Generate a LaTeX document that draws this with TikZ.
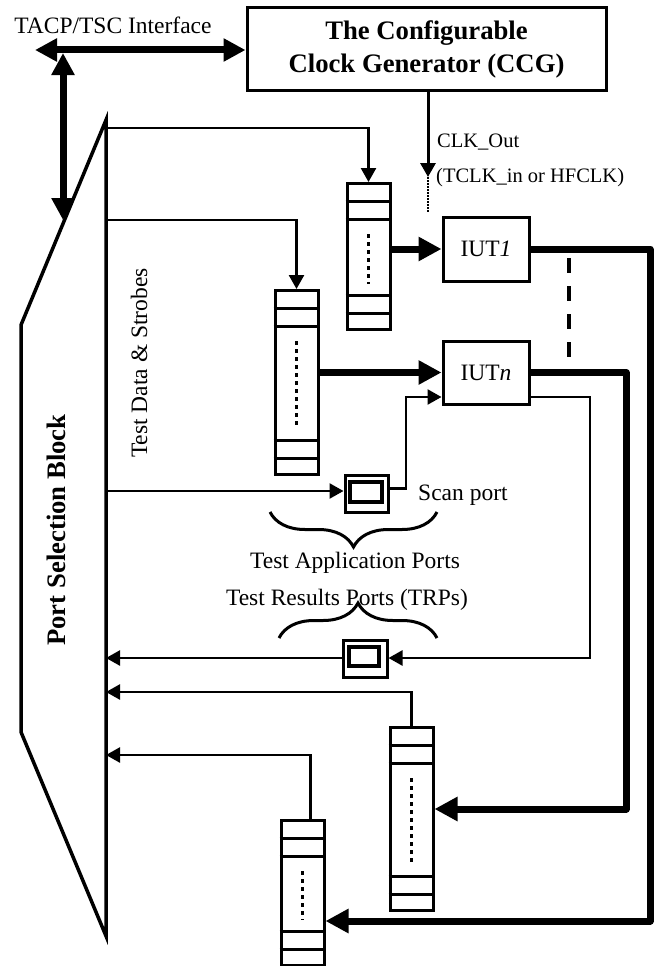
\documentclass[tikz,border=0pt]{standalone}
\usepackage{fontspec}
\setmainfont{Liberation Serif}
\usetikzlibrary{arrows.meta,decorations.pathreplacing,calc}
\newcommand{\shreg}[4]{%
  \node[reg,minimum height={#4-#3},anchor=north] (#1) at (#2,#3) {};
  \draw[cellln] ([yshift=-19pt]#1.north west) -- ([yshift=-19pt]#1.north east);
  \draw[cellln] ([yshift=-37pt]#1.north west) -- ([yshift=-37pt]#1.north east);
  \draw[cellln] ([yshift=36pt]#1.south west) -- ([yshift=36pt]#1.south east);
  \draw[cellln] ([yshift=18pt]#1.south west) -- ([yshift=18pt]#1.south east);
  \draw[dotln] ([yshift=-52pt]#1.north) -- ([yshift=47pt]#1.south);
}
\begin{document}
\begin{tikzpicture}[x=1pt,y=-1pt,
  tarr/.style={line width=2.5pt,-{Triangle[length=14pt,width=15pt]}},
  karr/.style={line width=7pt,line join=round,-{Triangle[length=23pt,width=23pt]}},
  dkarr/.style={line width=7pt,{Triangle[length=22pt,width=22pt]}-{Triangle[length=22pt,width=22pt]}},
  box/.style={draw,line width=3pt,inner sep=0pt},
  inbox/.style={draw,line width=3.5pt,inner sep=0pt},
  reg/.style={draw,line width=3pt,inner sep=0pt,minimum width=43pt},
  cellln/.style={line width=3pt},
  dotln/.style={line width=3.5pt,dash pattern=on 3.5pt off 4.5pt},
  txt/.style={font=\fontsize{23.5}{28}\selectfont,inner sep=0pt},
  smalltxt/.style={font=\fontsize{20.5}{24}\selectfont,inner sep=0pt},
  btxt/.style={font=\fontsize{26.7}{33}\selectfont\bfseries,inner sep=0pt},
  brc/.style={decorate,decoration={brace,amplitude=35pt},line width=3pt},
]
\useasboundingbox (0,0) rectangle (655,966);

% Configurable clock generator
\node[box,btxt,minimum width=359pt,minimum height=82pt,align=center] (ccg) at (426.5,49) {The Configurable\\Clock Generator (CCG)};

% TACP/TSC interface
\coordinate (hl) at (35,50);
\draw[dkarr] (hl) -- (ccg.west |- hl);
\coordinate (vt) at (63,53);
\coordinate (vb) at (63,220);
\draw[dkarr] (vt) -- (vb);
\node[txt,anchor=base] (tacp) at (113,34) {TACP/TSC Interface};

% Port selection block
\coordinate (p1) at (106,120);
\coordinate (p2) at (21,325);
\coordinate (p3) at (21,732);
\coordinate (p4) at (106,936);
\draw[line width=3.5pt,line join=miter] (p1) -- (p2) -- (p3) -- (p4) -- cycle;
\node[btxt,rotate=90,anchor=base] (psbl) at (65,530) {Port Selection Block};
\node[txt,rotate=90,anchor=base] (tds) at (147,363) {Test Data \& Strobes};

% Shift registers
\shreg{r1}{368.5}{182}{328}
\shreg{r2}{296.5}{289}{473}
\shreg{r3}{411.5}{726}{909}
\shreg{r4}{302.5}{819}{964}

% IUTs
\node[box,txt,minimum width=86pt,minimum height=64pt] (iut1) at (486,249) {IUT\textit{1}};
\node[box,txt,minimum width=86pt,minimum height=63pt] (iutn) at (486,372.5) {IUT\textit{n}};

% Scan port and TRP
\node[box,minimum width=43pt,minimum height=37pt] (scan) at (366.5,493.5) {};
\node[inbox,minimum width=32pt,minimum height=20pt] (scanin) at (366,492) {};
\node[box,minimum width=44pt,minimum height=37pt] (trp) at (365,658.5) {};
\node[inbox,minimum width=30pt,minimum height=19pt] (trpin) at (364,656.5) {};

% ports on the PSB
\coordinate (o1) at (106,128);
\coordinate (o2) at (106,220);
\coordinate (o3) at (106,491);
\coordinate (o4) at (106,658);
\coordinate (o5) at (106,692);
\coordinate (o6) at (106,755);
\coordinate (sp) at (406,397);
\coordinate (tr) at (590,658);

\draw[tarr] (o1) -| (r1.north);
\draw[tarr] (o2) -| (r2.north);
\draw[tarr] (o3) -- (scan.west |- o3);
\draw[tarr] ([yshift=5pt]scan.east) -| (sp) -- (iutn.west |- sp);
\draw[tarr] (iutn.east |- sp) -| (tr) -- (trp.east |- tr);
\draw[tarr] (trp.west |- o4) -- (o4);
\draw[tarr] (r3.north) |- (o5);
\draw[tarr] ([xshift=8pt]r4.north) |- (o6);

% thick data paths
\coordinate (c1) at (650,921);
\coordinate (c2) at (626,809);
\draw[karr] (r1.east |- iut1.west) -- (iut1.west);
\draw[karr] (r2.east |- iutn.west) -- (iutn.west);
\draw[karr] (iut1.east) -| (c1) -- (r4.east |- c1);
\draw[karr] (iutn.east) -| (c2) -- (r3.east |- c2);

% dashed between IUTs
\coordinate (d1) at (569,258);
\coordinate (d2) at (569,357);
\draw[line width=4pt,dash pattern=on 15pt off 13pt] (d1) -- (d2);

% clock
\coordinate (ck1) at (428,177);
\coordinate (ck2) at (428,213);
\draw[line width=3pt,-{Triangle[length=14pt,width=15pt]}] (ccg.south -| ck1) -- (ck1);
\draw[line width=2.5pt,dash pattern=on 1.5pt off 1.5pt] (ck1) -- (ck2);
\node[smalltxt,anchor=base west] (clko) at (437,147) {CLK\_Out};
\node[smalltxt,anchor=base west] (clki) at (436,182) {(TCLK\_in or HFCLK)};

% labels and braces
\node[txt,anchor=base west] (scanl) at (418,500) {Scan port};
\node[txt,anchor=base] (tap) at (355,568) {Test Application Ports};
\node[txt,anchor=base] (trpl) at (347,605) {Test Results Ports (TRPs)};
\coordinate (b1a) at (437,512);
\coordinate (b1b) at (270,512);
\draw[brc] (b1a) -- (b1b);
\coordinate (b2a) at (279,638);
\coordinate (b2b) at (437,638);
\draw[brc] (b2a) -- (b2b);
\end{tikzpicture}
\end{document}
